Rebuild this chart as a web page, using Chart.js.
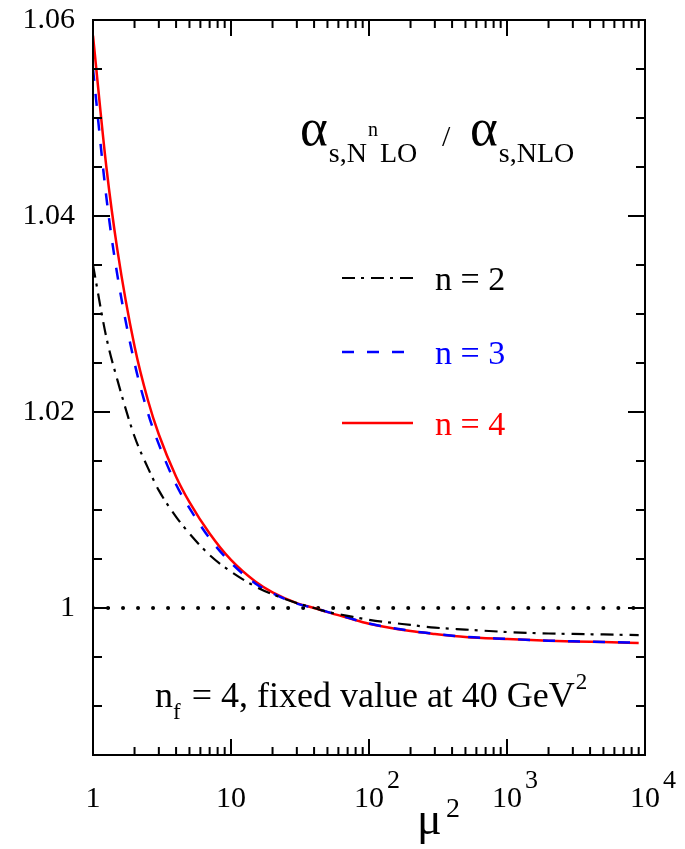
<!DOCTYPE html>
<html>
<head>
<meta charset="utf-8">
<script src="https://cdn.jsdelivr.net/npm/chart.js@4.4.0/dist/chart.umd.min.js"></script>
<style>
  html, body { margin: 0; padding: 0; background: #fff; }
  #wrap { width: 685px; height: 849px; position: relative; }
</style>
</head>
<body>
<div id="wrap"><canvas id="myChart" width="685" height="849"></canvas></div>
<script>
var mu2 = [1, 1.25, 1.5, 2, 2.5, 3, 4, 5, 7, 10, 15, 20, 30, 40, 50, 70, 100, 200, 300, 500, 1000, 2000, 3000, 5000, 9000]

// alpha_s(N^nLO) / alpha_s(NLO)
var ratioN2 = [1.0350, 1.0276, 1.0233, 1.0175, 1.0143, 1.0120, 1.0093, 1.0076, 1.0054, 1.0037, 1.0022, 1.0014, 1.0005, 1.0000,
  0.9996, 0.9992, 0.9988, 0.99827, 0.9980, 0.9978, 0.99755, 0.9974, 0.99735, 0.9973, 0.99724]
var ratioN3 = [1.0550, 1.0419, 1.0340, 1.0250, 1.0199, 1.0167, 1.0126, 1.0102, 1.0071, 1.0046, 1.0025, 1.0015, 1.00045, 1.0000,
  0.9996, 0.99902, 0.99842, 0.99767, 0.99737, 0.99706, 0.99685, 0.99667, 0.9966, 0.99654, 0.99646]
var ratioN4 = [1.0584, 1.0450, 1.0366, 1.0267, 1.0212, 1.0177, 1.0134, 1.0108, 1.0076, 1.0049, 1.0027, 1.0016, 1.0005, 1.0000,
  0.99958, 0.9990, 0.9984, 0.99765, 0.99735, 0.99704, 0.99683, 0.99665, 0.99658, 0.99652, 0.99644]

// dotted reference line at 1
var unityX = [1, 10000]
var unityY = [1, 1]

var yMajorTicks = [1, 1.02, 1.04, 1.06]
var xDecades = [1, 10, 100, 1000, 10000]
var legendLabels = ['n = 2', 'n = 3', 'n = 4']

var serif = '"Liberation Serif", "DejaVu Serif", serif'

function toPoints(xs, ys) {
  return xs.map(function (x, i) { return { x: x, y: ys[i] } })
}

function isMajorY(v) {
  return yMajorTicks.some(function (m) { return Math.abs(m - v) < 1e-7 })
}

function isDecade(v) {
  var l = Math.log10(v)
  return Math.abs(l - Math.round(l)) < 1e-9
}

// frame, inward ticks, superscripts, title, legend and note
const decorations = {
  id: 'decorations',
  afterDraw(chart) {
    const ctx = chart.ctx
    const a = chart.chartArea
    const xs = chart.scales.x, ys = chart.scales.y
    ctx.save()
    ctx.strokeStyle = '#000'
    ctx.lineWidth = 2
    ctx.strokeRect(a.left, a.top, a.right - a.left, a.bottom - a.top)

    // y ticks, left and right
    ctx.beginPath()
    ys.ticks.forEach(function (t) {
      const py = ys.getPixelForValue(t.value)
      if (py <= a.top + 1 || py >= a.bottom - 1) return
      const len = isMajorY(t.value) ? 17 : 9
      ctx.moveTo(a.left, py); ctx.lineTo(a.left + len, py)
      ctx.moveTo(a.right, py); ctx.lineTo(a.right - len, py)
    })
    // x ticks, top and bottom
    for (let d = 0; d < 4; d++) {
      for (let m = 1; m <= 9; m++) {
        const v = m * Math.pow(10, d)
        const px = xs.getPixelForValue(v)
        const len = m === 1 ? 16 : 8
        if (px <= a.left + 1) continue
        ctx.moveTo(px, a.bottom); ctx.lineTo(px, a.bottom - len)
        ctx.moveTo(px, a.top); ctx.lineTo(px, a.top + len)
      }
    }
    ctx.stroke()

    ctx.fillStyle = '#000'
    ctx.textBaseline = 'alphabetic'
    ctx.textAlign = 'left'

    // exponents on the x tick labels
    ctx.font = '30px ' + serif
    const halfTen = ctx.measureText('10').width / 2
    xDecades.forEach(function (v) {
      const e = Math.round(Math.log10(v))
      if (e < 2) return
      const px = xs.getPixelForValue(v)
      ctx.font = '26px ' + serif
      ctx.fillText(String(e), px + halfTen + 3, 788)
    })

    // axis title mu^2
    ctx.font = '46px ' + serif
    ctx.fillText('\u03bc', 417, 834)
    ctx.font = '28px ' + serif
    ctx.fillText('2', 446, 817)

    // title alpha_{s,N^nLO} / alpha_{s,NLO}
    let x = 300
    ctx.font = '53px ' + serif
    ctx.fillText('\u03b1', x, 145); x += ctx.measureText('\u03b1').width + 1
    ctx.font = '28px ' + serif
    ctx.fillText('s,N', x, 162); x += ctx.measureText('s,N').width + 1
    ctx.font = '20px ' + serif
    ctx.fillText('n', x, 136); x += ctx.measureText('n').width + 2
    ctx.font = '28px ' + serif
    ctx.fillText('LO', x, 162)
    ctx.font = '30px ' + serif
    ctx.fillText('/', 442, 146)
    x = 470
    ctx.font = '53px ' + serif
    ctx.fillText('\u03b1', x, 145); x += ctx.measureText('\u03b1').width + 1
    ctx.font = '28px ' + serif
    ctx.fillText('s,NLO', x, 162)

    // legend
    const legY = [278, 352, 423]
    chart.data.datasets.slice(0, 3).forEach(function (ds, i) {
      ctx.save()
      ctx.strokeStyle = ds.borderColor
      ctx.lineWidth = ds.borderWidth
      ctx.setLineDash(ds.borderDash || [])
      ctx.beginPath()
      ctx.moveTo(342, legY[i]); ctx.lineTo(413, legY[i])
      ctx.stroke()
      ctx.restore()
      ctx.fillStyle = ds.borderColor
      ctx.font = '34px ' + serif
      ctx.fillText(legendLabels[i], 435, legY[i] + 12)
    })

    // note
    ctx.fillStyle = '#000'
    x = 155
    ctx.font = '36px ' + serif
    ctx.fillText('n', x, 707); x += ctx.measureText('n').width
    ctx.font = '23px ' + serif
    ctx.fillText('f', x, 719); x += ctx.measureText('f').width + 2
    ctx.font = '36px ' + serif
    const note = ' = 4, fixed value at 40 GeV'
    ctx.fillText(note, x, 707); x += ctx.measureText(note).width + 1
    ctx.font = '23px ' + serif
    ctx.fillText('2', x, 689)
    ctx.restore()
  }
}

const ctx = document.getElementById('myChart').getContext('2d')

const chart = new Chart(ctx, {
  type: 'line',
  data: {
    datasets: [{
      label: 'n = 2',
      data: toPoints(mu2, ratioN2),
      borderColor: '#000000',
      borderWidth: 2.2,
      borderDash: [13, 6, 3, 7],
      pointRadius: 0,
      cubicInterpolationMode: 'monotone'
    }, {
      label: 'n = 3',
      data: toPoints(mu2, ratioN3),
      borderColor: '#0000ff',
      borderWidth: 2.5,
      borderDash: [12, 13],
      pointRadius: 0,
      cubicInterpolationMode: 'monotone'
    }, {
      label: 'n = 4',
      data: toPoints(mu2, ratioN4),
      borderColor: '#ff0000',
      borderWidth: 2.5,
      pointRadius: 0,
      cubicInterpolationMode: 'monotone'
    }, {
      label: 'unity',
      data: toPoints(unityX, unityY),
      borderColor: '#000000',
      borderWidth: 4,
      borderDash: [0.01, 15],
      borderCapStyle: 'round',
      pointRadius: 0
    }]
  },
  options: {
    responsive: false,
    animation: false,
    layout: { padding: { top: 20, right: 40, left: 0, bottom: 0 } },
    plugins: {
      legend: { display: false },
      tooltip: { enabled: false }
    },
    scales: {
      x: {
        type: 'logarithmic',
        min: 1,
        max: 10000,
        grid: { display: false },
        border: { display: false },
        afterFit: function (s) { s.height = 94 },
        ticks: {
          autoSkip: false,
          maxRotation: 0,
          padding: 18,
          color: '#000',
          font: { family: serif, size: 30 },
          callback: function (v) {
            if (!isDecade(v)) return ''
            return v === 1 ? '1' : '10'
          }
        }
      },
      y: {
        min: 0.985,
        max: 1.06,
        grid: { display: false },
        border: { display: false },
        afterFit: function (s) {
          s.width = 93
          s.paddingTop = 0
          s.paddingBottom = 0
        },
        ticks: {
          stepSize: 0.005,
          autoSkip: false,
          padding: 10,
          color: '#000',
          font: { family: serif, size: 30 },
          callback: function (v) {
            if (!isMajorY(v)) return ''
            return Math.abs(v - 1) < 1e-7 ? '1' : v.toFixed(2)
          }
        }
      }
    }
  },
  plugins: [decorations]
})
</script>
</body>
</html>
